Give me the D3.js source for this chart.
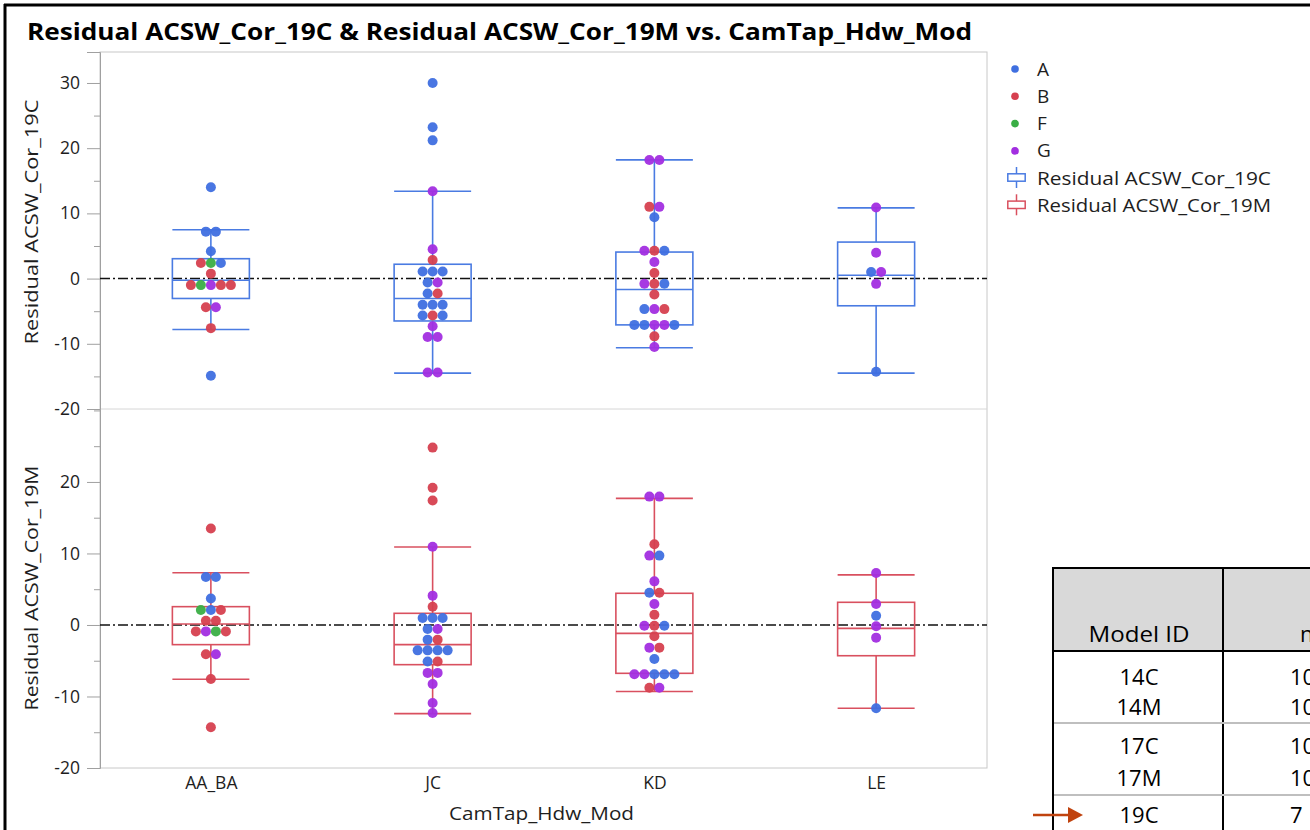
<!DOCTYPE html>
<html><head><meta charset="utf-8">
<script src="https://cdn.jsdelivr.net/npm/d3@7"></script>
<style>
html,body{margin:0;padding:0;background:#fff;overflow:hidden;}
text{font-family:"Open Sans","Noto Sans",sans-serif;}
</style></head>
<body><svg id="c" width="1310" height="830"></svg>
<script>
const categories = ["AA_BA","JC","KD","LE"];
const groups = ["A","B","F","G"];
const groupColors = ["#3f6fe0","#d6404f","#3aae45","#a22ee0"];
const topTicks = [-20,-10,0,10,20,30];
const bottomTicks = [-20,-10,0,10,20];
const seriesNames = ["Residual ACSW_Cor_19C","Residual ACSW_Cor_19M"];

// Points: [category, value, group] (rows listed left to right)
const res19C = [
 ["AA_BA",14,"A"],["AA_BA",7.2,"A"],["AA_BA",7.2,"A"],["AA_BA",4.2,"A"],
 ["AA_BA",2.4,"B"],["AA_BA",2.4,"F"],["AA_BA",2.4,"A"],["AA_BA",0.76,"B"],
 ["AA_BA",-1,"B"],["AA_BA",-1,"F"],["AA_BA",-1,"G"],["AA_BA",-1,"B"],["AA_BA",-1,"B"],
 ["AA_BA",-4.4,"B"],["AA_BA",-4.4,"G"],["AA_BA",-7.6,"B"],["AA_BA",-14.9,"A"],
 ["JC",30,"A"],["JC",23.2,"A"],["JC",21.2,"A"],["JC",13.4,"G"],["JC",4.5,"G"],["JC",2.85,"B"],
 ["JC",1.1,"A"],["JC",1.1,"A"],["JC",1.1,"A"],["JC",-0.6,"A"],["JC",-0.6,"G"],
 ["JC",-2.3,"A"],["JC",-2.3,"B"],["JC",-4.0,"A"],["JC",-4.0,"A"],["JC",-4.0,"A"],
 ["JC",-5.65,"A"],["JC",-5.65,"B"],["JC",-5.65,"A"],["JC",-7.3,"G"],
 ["JC",-8.95,"G"],["JC",-8.95,"G"],["JC",-14.4,"G"],["JC",-14.4,"G"],
 ["KD",18.2,"G"],["KD",18.2,"G"],["KD",11.0,"B"],["KD",11.0,"G"],["KD",9.4,"A"],
 ["KD",4.27,"G"],["KD",4.27,"B"],["KD",4.27,"A"],["KD",2.54,"G"],["KD",0.86,"B"],
 ["KD",-0.8,"G"],["KD",-0.8,"B"],["KD",-0.8,"A"],["KD",-2.44,"B"],
 ["KD",-4.68,"A"],["KD",-4.68,"G"],["KD",-4.68,"B"],
 ["KD",-7.1,"A"],["KD",-7.1,"A"],["KD",-7.1,"G"],["KD",-7.1,"G"],["KD",-7.1,"A"],
 ["KD",-8.86,"B"],["KD",-10.5,"G"],
 ["LE",10.9,"G"],["LE",3.97,"G"],["LE",1.02,"A"],["LE",1.02,"G"],["LE",-0.81,"G"],["LE",-14.3,"A"]
];
const res19M = [
 ["AA_BA",13.5,"B"],["AA_BA",6.7,"A"],["AA_BA",6.7,"A"],["AA_BA",3.7,"A"],
 ["AA_BA",2.1,"F"],["AA_BA",2.1,"A"],["AA_BA",2.1,"B"],["AA_BA",0.6,"B"],["AA_BA",0.6,"B"],
 ["AA_BA",-0.9,"B"],["AA_BA",-0.9,"G"],["AA_BA",-0.9,"F"],["AA_BA",-0.9,"B"],
 ["AA_BA",-4.1,"B"],["AA_BA",-4.1,"G"],["AA_BA",-7.55,"B"],["AA_BA",-14.3,"B"],
 ["JC",24.8,"B"],["JC",19.2,"B"],["JC",17.4,"B"],["JC",10.95,"G"],["JC",4.1,"G"],["JC",2.56,"B"],
 ["JC",0.98,"A"],["JC",0.98,"A"],["JC",0.98,"A"],["JC",-0.56,"A"],["JC",-0.56,"G"],
 ["JC",-2.05,"A"],["JC",-2.05,"B"],["JC",-3.55,"A"],["JC",-3.55,"A"],["JC",-3.55,"A"],["JC",-3.55,"A"],
 ["JC",-5.1,"A"],["JC",-5.1,"B"],["JC",-6.7,"G"],["JC",-6.7,"G"],["JC",-8.25,"G"],
 ["JC",-10.9,"G"],["JC",-12.3,"G"],
 ["KD",17.95,"G"],["KD",17.95,"G"],["KD",11.3,"B"],["KD",9.7,"G"],["KD",9.7,"A"],["KD",6.1,"G"],
 ["KD",4.5,"A"],["KD",4.5,"B"],["KD",2.94,"G"],["KD",1.44,"B"],
 ["KD",-0.1,"G"],["KD",-0.1,"B"],["KD",-0.1,"A"],["KD",-1.58,"B"],
 ["KD",-3.17,"G"],["KD",-3.17,"B"],["KD",-4.76,"A"],
 ["KD",-6.9,"G"],["KD",-6.9,"G"],["KD",-6.9,"A"],["KD",-6.9,"A"],["KD",-6.9,"A"],
 ["KD",-8.77,"B"],["KD",-8.77,"G"],
 ["LE",7.27,"G"],["LE",2.94,"G"],["LE",1.3,"A"],["LE",-0.19,"G"],["LE",-1.77,"G"],["LE",-11.65,"A"]
];

// Box statistics per category (order of categories)
const box19C_low = [-7.8,-14.5,-10.6,-14.5];
const box19C_q1 = [-3.05,-6.5,-7.1,-4.17];
const box19C_med = [-0.25,-3.05,-1.68,0.51];
const box19C_q3 = [3.05,2.2,4.07,5.6];
const box19C_high = [7.5,13.4,18.2,10.85];
const box19M_low = [-7.6,-12.4,-9.3,-11.65];
const box19M_q1 = [-2.75,-5.55,-6.76,-4.3];
const box19M_med = [0.14,-2.75,-1.17,-0.47];
const box19M_q3 = [2.56,1.63,4.43,3.17];
const box19M_high = [7.3,10.9,17.7,7.0];

// Table (partly visible)
const tableIds = ["14C","14M","17C","17M","19C"];
const tableCol2 = ["10","10","10","10","7"];

const svg = d3.select("#c");
const L = 100, R = 987, T = 52, MID = 409, B = 768;
const boxColors = ["#4a7be2","#d9505f"];
const ink = "#1e1e1e";

// outer frame
svg.append("line").attr("x1",5).attr("x2",5).attr("y1",4).attr("y2",830).attr("stroke","#000").attr("stroke-width",3);
svg.append("line").attr("x1",4).attr("x2",1310).attr("y1",5).attr("y2",5).attr("stroke","#000").attr("stroke-width",3);

svg.append("text").attr("x",27).attr("y",40).attr("font-size",23).attr("font-weight","bold")
  .attr("textLength",945).attr("lengthAdjust","spacingAndGlyphs").attr("fill","#000")
  .text("Residual ACSW_Cor_19C & Residual ACSW_Cor_19M vs. CamTap_Hdw_Mod");

const x = d3.scalePoint().domain(categories).range([L,R]).padding(0.5);
const color = d3.scaleOrdinal().domain(groups).range(groupColors);
const yTop = d3.scaleLinear().domain([-20,34.75]).range([MID,T]);
const yBot = d3.scaleLinear().domain([-20,30.2]).range([B,MID]);

// frame
svg.append("rect").attr("x",L).attr("y",T).attr("width",R-L).attr("height",B-T)
  .attr("fill","none").attr("stroke","#c8c8c8").attr("stroke-width",1);
svg.append("line").attr("x1",L).attr("x2",R).attr("y1",MID).attr("y2",MID).attr("stroke","#d6d6d6");

function panel(y, ticks, pts, low, q1, med, q3, high, bc, label, lblY){
  const minor = [];
  for (let v=ticks[0]; v<=y.domain()[1]; v+=5) if (!ticks.includes(v)) minor.push(v);
  const axis = d3.axisLeft(y).tickValues(ticks).tickSize(13).tickPadding(7).tickFormat(d=>String(d));
  const g = svg.append("g").attr("transform",`translate(${L},0)`).call(axis);
  g.select(".domain").attr("stroke","#a0a0a0");
  g.selectAll(".tick line").attr("stroke","#a0a0a0");
  g.selectAll(".tick text").attr("font-size",17.5).attr("fill",ink).attr("font-family","'Open Sans',sans-serif");
  const gm = svg.append("g").attr("transform",`translate(${L},0)`)
    .call(d3.axisLeft(y).tickValues(minor).tickSize(6).tickFormat(""));
  gm.select(".domain").remove();
  gm.selectAll(".tick line").attr("stroke","#a0a0a0");
  // reference line at 0
  svg.append("line").attr("x1",L).attr("x2",R).attr("y1",y(0)).attr("y2",y(0))
    .attr("stroke","#111").attr("stroke-width",1.5).attr("stroke-dasharray","10,3,2,3");
  // boxes
  const hw = 38.5;
  categories.forEach((c,i)=>{
    const cx = x(c);
    const gb = svg.append("g").attr("stroke",bc).attr("stroke-width",1.6).attr("fill","none");
    gb.append("line").attr("x1",cx).attr("x2",cx).attr("y1",y(high[i])).attr("y2",y(q3[i]));
    gb.append("line").attr("x1",cx).attr("x2",cx).attr("y1",y(q1[i])).attr("y2",y(low[i]));
    gb.append("line").attr("x1",cx-hw).attr("x2",cx+hw).attr("y1",y(high[i])).attr("y2",y(high[i]));
    gb.append("line").attr("x1",cx-hw).attr("x2",cx+hw).attr("y1",y(low[i])).attr("y2",y(low[i]));
    gb.append("rect").attr("x",cx-hw).attr("y",y(q3[i])).attr("width",2*hw).attr("height",y(q1[i])-y(q3[i]));
    gb.append("line").attr("x1",cx-hw).attr("x2",cx+hw).attr("y1",y(med[i])).attr("y2",y(med[i]));
  });
  // beeswarm rows
  const placed = [];
  const rows = d3.group(pts, d=>d[0], d=>d[1]);
  rows.forEach((byVal, c)=>{
    byVal.forEach((arr, v)=>{
      arr.forEach((d,i)=>placed.push({cx: x(c) + (i-(arr.length-1)/2)*10, cy: y(v), g: d[2]}));
    });
  });
  svg.append("g").selectAll("circle").data(placed).join("circle")
    .attr("cx",d=>d.cx).attr("cy",d=>d.cy).attr("r",5)
    .attr("fill",d=>color(d.g)).attr("fill-opacity",0.95);
  svg.append("text").attr("transform",`translate(38,${lblY}) rotate(-90)`).attr("text-anchor","middle")
    .attr("font-size",18).attr("fill",ink).attr("textLength",245).attr("lengthAdjust","spacingAndGlyphs").text(label);
}
panel(yTop, topTicks, res19C, box19C_low, box19C_q1, box19C_med, box19C_q3, box19C_high, boxColors[0], seriesNames[0], 222);
panel(yBot, bottomTicks, res19M, box19M_low, box19M_q1, box19M_med, box19M_q3, box19M_high, boxColors[1], seriesNames[1], 588);

// x axis labels
const gx = svg.append("g").attr("transform",`translate(0,${B})`)
  .call(d3.axisBottom(x).tickSize(0).tickPadding(9));
gx.select(".domain").remove();
gx.selectAll(".tick text").attr("font-size",17.5).attr("fill",ink).attr("font-family","'Open Sans',sans-serif");
svg.append("text").attr("x",(L+R)/2 - 2).attr("y",820).attr("text-anchor","middle")
  .attr("font-size",18).attr("fill",ink).attr("textLength",185).attr("lengthAdjust","spacingAndGlyphs").text("CamTap_Hdw_Mod");

// legend
const lg = svg.append("g");
groups.forEach((gname,i)=>{
  const yy = 69 + i*27.3;
  lg.append("circle").attr("cx",1015).attr("cy",yy).attr("r",3.8).attr("fill",color(gname));
  lg.append("text").attr("x",1037).attr("y",yy+6.5).attr("font-size",19).attr("fill",ink).text(gname);
});
seriesNames.forEach((s,i)=>{
  const yy = 178 + i*27.3;
  const c = boxColors[i];
  lg.append("line").attr("x1",1016.5).attr("x2",1016.5).attr("y1",yy-11).attr("y2",yy+10).attr("stroke",c).attr("stroke-width",1.5);
  lg.append("rect").attr("x",1007.8).attr("y",yy-4.2).attr("width",17.4).attr("height",7.4).attr("fill","#fff").attr("stroke",c).attr("stroke-width",1.5);
  lg.append("text").attr("x",1037).attr("y",yy+6.5).attr("font-size",19).attr("fill",ink)
    .attr("textLength",234).attr("lengthAdjust","spacingAndGlyphs").text(s);
});

// table overlay
const tg = svg.append("g");
tg.append("rect").attr("x",1053).attr("y",568).attr("width",270).attr("height",300).attr("fill","#fff");
tg.append("rect").attr("x",1053).attr("y",568).attr("width",270).attr("height",83).attr("fill","#d9d9d9");
tg.append("rect").attr("x",1053).attr("y",568).attr("width",270).attr("height",300).attr("fill","none").attr("stroke","#000").attr("stroke-width",2);
tg.append("line").attr("x1",1223).attr("x2",1223).attr("y1",568).attr("y2",830).attr("stroke","#000").attr("stroke-width",2);
tg.append("line").attr("x1",1053).attr("x2",1310).attr("y1",651).attr("y2",651).attr("stroke","#000").attr("stroke-width",2);
[723,795].forEach(yy=>tg.append("line").attr("x1",1054).attr("x2",1310).attr("y1",yy).attr("y2",yy).attr("stroke","#bfbfbf").attr("stroke-width",2));
tg.append("text").attr("x",1139).attr("y",642).attr("text-anchor","middle").attr("font-size",22).attr("fill","#000")
  .attr("textLength",101).attr("lengthAdjust","spacingAndGlyphs").text("Model ID");
tg.append("text").attr("x",1300).attr("y",642).attr("font-size",22).attr("fill","#000").text("n");
const rowY = [685,715,754,786,823];
tableIds.forEach((t,i)=>{
  tg.append("text").attr("x",1139).attr("y",rowY[i]).attr("text-anchor","middle").attr("font-size",22).attr("fill","#000").text(t);
  tg.append("text").attr("x",1290).attr("y",rowY[i]).attr("font-size",22).attr("fill","#000").text(tableCol2[i]);
});
// arrow
tg.append("line").attr("x1",1033).attr("x2",1070).attr("y1",815).attr("y2",815).attr("stroke","#c0430f").attr("stroke-width",2.5);
tg.append("path").attr("d","M1068,807 L1083,815 L1068,823 Z").attr("fill","#c0430f");
</script></body></html>
